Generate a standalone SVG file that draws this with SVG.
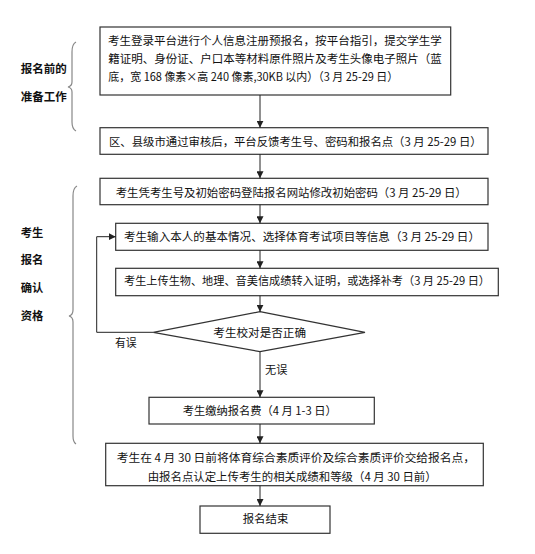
<svg xmlns="http://www.w3.org/2000/svg" width="535" height="554" viewBox="0 0 535 554">
<defs>
<marker id="ah" viewBox="0 0 10 10" refX="10" refY="5" markerWidth="7" markerHeight="7" markerUnits="userSpaceOnUse" orient="auto">
<path d="M0,0 L10,5 L0,10 z" fill="#222"/>
</marker>
</defs>
<style>
.box{fill:#fff;stroke:#333;stroke-width:1.2}
.t{font-family:"Noto Sans CJK SC","Noto Sans",sans-serif;font-size:11.5px;fill:#111}
.lb{font-family:"Noto Sans CJK SC","Noto Sans",sans-serif;font-size:11.5px;font-weight:bold;fill:#111}
.c{fill:none;stroke:#222;stroke-width:1}
.br{fill:none;stroke:#888;stroke-width:1.2}
</style>
<rect width="535" height="554" fill="#fff"/>
<g id="brace1">
<path class="br" d="M76,42 Q72,44 72,52 L72,82 Q72,86 68,87 Q72,88 72,92 L72,122 Q72,129 76,131"/>
<text class="lb" x="20.7" y="73" textLength="46" lengthAdjust="spacingAndGlyphs">报名前的</text>
<text class="lb" x="20.7" y="101" textLength="46" lengthAdjust="spacingAndGlyphs">准备工作</text>
</g>
<g id="brace2">
<path class="br" d="M77,186 Q73,188 73,196 L73,310 Q73,315 69,316 Q73,317 73,322 L73,436 Q73,442 76,444"/>
<text class="lb" x="20.7" y="236.5" textLength="22.6" lengthAdjust="spacingAndGlyphs">考生</text>
<text class="lb" x="20.7" y="264" textLength="22.6" lengthAdjust="spacingAndGlyphs">报名</text>
<text class="lb" x="20.7" y="292" textLength="22.6" lengthAdjust="spacingAndGlyphs">确认</text>
<text class="lb" x="20.7" y="319.5" textLength="22.6" lengthAdjust="spacingAndGlyphs">资格</text>
</g>
<g id="n1">
<rect class="box" x="100" y="27" width="350.7" height="68"/>
<text class="t" x="108" y="45" textLength="333.7" lengthAdjust="spacingAndGlyphs">考生登录平台进行个人信息注册预报名，按平台指引，提交学生学</text>
<text class="t" x="108.3" y="62.5" textLength="333.4" lengthAdjust="spacingAndGlyphs">籍证明、身份证、户口本等材料原件照片及考生头像电子照片（蓝</text>
<text class="t" x="108.3" y="81" textLength="290" lengthAdjust="spacingAndGlyphs">底，宽 168 像素×高 240 像素,30KB 以内）（3 月 25-29 日）</text>
</g>
<g id="n2">
<rect class="box" x="100" y="127.7" width="388" height="26.6"/>
<text class="t" x="109" y="146" textLength="372.7" lengthAdjust="spacingAndGlyphs">区、县级市通过审核后，平台反馈考生号、密码和报名点（3 月 25-29 日）</text>
</g>
<g id="n3">
<rect class="box" x="100" y="178.3" width="388" height="26.4"/>
<text class="t" x="115.7" y="197" textLength="351" lengthAdjust="spacingAndGlyphs">考生凭考生号及初始密码登陆报名网站修改初始密码（3 月 25-29 日）</text>
</g>
<g id="n4">
<rect class="box" x="115.7" y="223.3" width="372.3" height="27"/>
<text class="t" x="124" y="241" textLength="356" lengthAdjust="spacingAndGlyphs">考生输入本人的基本情况、选择体育考试项目等信息（3 月 25-29 日）</text>
</g>
<g id="n5">
<rect class="box" x="115.7" y="268.3" width="382.6" height="27.4"/>
<text class="t" x="124" y="285.3" textLength="366" lengthAdjust="spacingAndGlyphs">考生上传生物、地理、音美信成绩转入证明，或选择补考（3 月 25-29 日）</text>
</g>
<g id="n6">
<polygon class="box" points="260,311.7 365,332.3 260,351.7 153.3,332.3"/>
<text class="t" x="213.3" y="336.5" textLength="92.7" lengthAdjust="spacingAndGlyphs">考生校对是否正确</text>
</g>
<g id="n7">
<rect class="box" x="149" y="397.3" width="225.3" height="26.7"/>
<text class="t" x="182.7" y="415.3" textLength="154" lengthAdjust="spacingAndGlyphs">考生缴纳报名费（4 月 1-3 日）</text>
</g>
<g id="n8">
<rect class="box" x="105.7" y="443.3" width="377.6" height="42.4"/>
<text class="t" x="116.7" y="462" textLength="358.3" lengthAdjust="spacingAndGlyphs">考生在 4 月 30 日前将体育综合素质评价及综合素质评价交给报名点，</text>
<text class="t" x="147.7" y="481" textLength="289" lengthAdjust="spacingAndGlyphs">由报名点认定上传考生的相关成绩和等级（4 月 30 日前）</text>
</g>
<g id="n9">
<rect class="box" x="200" y="506" width="130" height="27.3"/>
<text class="t" x="242.7" y="523.3" textLength="45.6" lengthAdjust="spacingAndGlyphs">报名结束</text>
</g>
<g id="connectors">
<line class="c" x1="260" y1="95" x2="260" y2="127.7" marker-end="url(#ah)"/>
<line class="c" x1="260" y1="154.3" x2="260" y2="178.3" marker-end="url(#ah)"/>
<line class="c" x1="260" y1="204.7" x2="260" y2="223.3" marker-end="url(#ah)"/>
<line class="c" x1="260" y1="250.3" x2="260" y2="268.3" marker-end="url(#ah)"/>
<line class="c" x1="260" y1="295.7" x2="260" y2="311.7" marker-end="url(#ah)"/>
<polyline class="c" points="153.3,332.3 96.7,332.3 96.7,236.7 115.7,236.7" marker-end="url(#ah)"/>
<line class="c" x1="260" y1="351.7" x2="260" y2="397.3" marker-end="url(#ah)"/>
<line class="c" x1="260" y1="424" x2="260" y2="443.3" marker-end="url(#ah)"/>
<line class="c" x1="260" y1="485.7" x2="260" y2="506" marker-end="url(#ah)"/>
<text class="t" x="115" y="346.5" textLength="21.7" lengthAdjust="spacingAndGlyphs">有误</text>
<text class="t" x="265" y="374" textLength="22.3" lengthAdjust="spacingAndGlyphs">无误</text>
</g>
</svg>
